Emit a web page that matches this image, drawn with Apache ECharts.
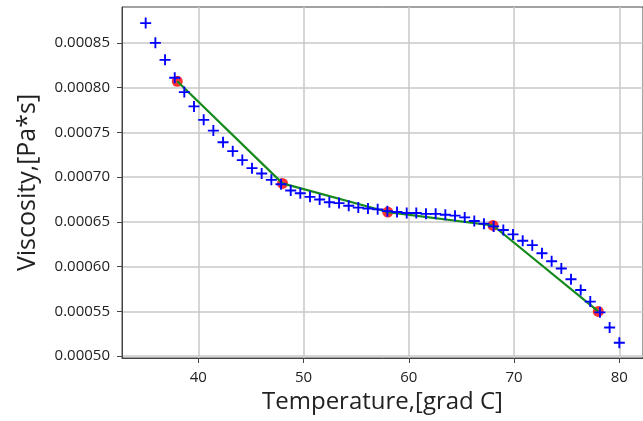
<!DOCTYPE html>
<html>
<head>
<meta charset="utf-8">
<script src="https://cdn.jsdelivr.net/npm/echarts@6/dist/echarts.min.js"></script>
<style>
  html, body { margin: 0; padding: 0; background: #fff; }
  #chart { width: 643px; height: 421px; }
</style>
</head>
<body>
<div id="chart"></div>
<script>
// measured viscosity (blue +)
const tempX = [
  35.00, 35.92, 36.84, 37.76, 38.67, 39.59, 40.51, 41.43, 42.35, 43.27,
  44.18, 45.10, 46.02, 46.94, 47.86, 48.78, 49.69, 50.61, 51.53, 52.45,
  53.37, 54.29, 55.20, 56.12, 57.04, 57.96, 58.88, 59.80, 60.71, 61.63,
  62.55, 63.47, 64.39, 65.31, 66.22, 67.14, 68.06, 68.98, 69.90, 70.82,
  71.73, 72.65, 73.57, 74.49, 75.41, 76.33, 77.24, 78.16, 79.08, 80.00
]
const viscY = [
  0.000872, 0.000850, 0.000831, 0.000811, 0.000795, 0.000779, 0.000764, 0.000752, 0.000739, 0.000729,
  0.000719, 0.000710, 0.000704, 0.000697, 0.000692, 0.000685, 0.000682, 0.000678, 0.000675, 0.000672,
  0.000671, 0.000668, 0.000666, 0.000665, 0.000664, 0.000662, 0.000661, 0.000660, 0.000660, 0.000659,
  0.000659, 0.000658, 0.000657, 0.000655, 0.000651, 0.000648, 0.000645, 0.000641, 0.000636, 0.000629,
  0.000624, 0.000615, 0.000606, 0.000598, 0.000586, 0.000574, 0.000561, 0.000549, 0.000532, 0.000515
]

// selected points (red dots + green line)
const nodeX = [38, 48, 58, 68, 78]
const nodeY = [0.000807, 0.000693, 0.000661, 0.000646, 0.000550]

const xTicks = [40, 50, 60, 70, 80]
const yTicks = [0.0005, 0.00055, 0.0006, 0.00065, 0.0007, 0.00075, 0.0008, 0.00085]

const zip = (xs, ys) => xs.map((x, i) => [x, ys[i]])

// "+" marker as a thin filled cross
const plusPath = 'path://M4.15,0H5.85V4.15H10V5.85H5.85V10H4.15V5.85H0V4.15H4.15Z'
const font = '"Open Sans", "DejaVu Sans", sans-serif'

const chart = echarts.init(document.getElementById('chart'))

chart.setOption({
  animation: false,
  grid: {
    left: 122, right: -4, top: 7, bottom: 63,
    show: true, borderColor: '#444', borderWidth: 1, backgroundColor: 'transparent'
  },
  xAxis: {
    type: 'value',
    min: 32.75,
    max: 82.25,
    name: 'Temperature,[grad C]',
    nameLocation: 'middle',
    nameGap: 32,
    nameTextStyle: { fontFamily: font, fontSize: 24, color: '#222' },
    axisLine: { show: true, onZero: false, lineStyle: { color: '#444', width: 1 } },
    axisTick: { show: true, length: 5, customValues: xTicks, lineStyle: { color: '#444' } },
    axisLabel: { customValues: xTicks, margin: 12, fontFamily: font, fontSize: 15, color: '#222' },
    splitLine: { show: true, lineStyle: { color: '#c8c8c8', width: 1.5 } }
  },
  yAxis: {
    type: 'value',
    min: 0.000498,
    max: 0.00089,
    name: 'Viscosity,[Pa*s]',
    nameLocation: 'middle',
    nameGap: 82,
    nameTextStyle: { fontFamily: font, fontSize: 25, color: '#222' },
    axisLine: { show: true, onZero: false, lineStyle: { color: '#444', width: 1 } },
    axisTick: { show: true, length: 5, customValues: yTicks, lineStyle: { color: '#444' } },
    axisLabel: {
      customValues: yTicks, margin: 12, fontFamily: font, fontSize: 15, color: '#222',
      formatter: (v) => v.toFixed(5)
    },
    splitLine: { show: true, lineStyle: { color: '#c8c8c8', width: 1.5 } }
  },
  series: [
    {
      name: 'nodes',
      type: 'scatter',
      data: zip(nodeX, nodeY),
      symbol: 'circle',
      symbolSize: 11,
      itemStyle: { color: '#ff0000' },
      z: 2
    },
    {
      name: 'segments',
      type: 'line',
      data: zip(nodeX, nodeY),
      showSymbol: false,
      lineStyle: { color: '#148a1c', width: 2.2 },
      z: 3
    },
    {
      name: 'measured',
      type: 'scatter',
      data: zip(tempX, viscY),
      symbol: plusPath,
      symbolSize: 11,
      itemStyle: { color: '#0000ff', opacity: 1 },
      z: 4
    }
  ]
})
</script>
</body>
</html>
